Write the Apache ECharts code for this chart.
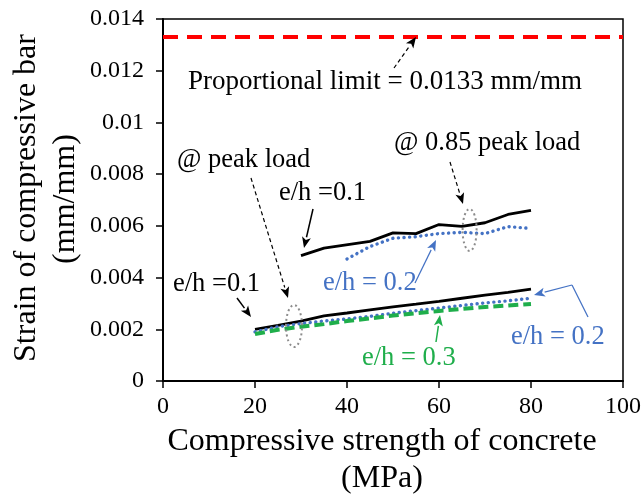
<!DOCTYPE html>
<html><head><meta charset="utf-8">
<script src="https://cdn.jsdelivr.net/npm/echarts@6/dist/echarts.min.js"></script>
<style>html,body{margin:0;padding:0;background:#fff}#c{width:644px;height:500px}</style>
</head><body><div id="c"></div>
<script>
// ---- data ----
var xLower = [20,25,30,35,40,45,50,55,60,65,70,75,80];
var peak_eh01 = [0.00200,0.00215,0.00232,0.00252,0.00263,0.00275,0.00287,0.00297,0.00308,0.00320,0.00332,0.00343,0.00355];
var peak_eh02 = [0.00190,0.00210,0.00222,0.00232,0.00240,0.00250,0.00262,0.00272,0.00282,0.00292,0.00302,0.00310,0.00320];
var peak_eh03 = [0.00182,0.00198,0.00210,0.00220,0.00232,0.00242,0.00253,0.00262,0.00271,0.00279,0.00286,0.00292,0.00298];
var xUp01 = [30,35,45,50,55,60,65,70,75,80];
var p85_eh01 = [0.00485,0.00514,0.00540,0.00573,0.00570,0.00605,0.00598,0.00612,0.00644,0.00660];
var xUp02 = [40,45,50,55,60,65,70,75,80];
var p85_eh02 = [0.00472,0.00520,0.00552,0.00558,0.00570,0.00575,0.00570,0.00597,0.00590];
var proportionalLimit = 0.0133;
var xLimit = [0,100];

function pairs(xs, ys){ return xs.map(function(x,i){return [x, ys[i]];}); }

var FONT = 'Liberation Serif, Times New Roman, serif';
var chart = echarts.init(document.getElementById('c'));

function arrow(x1,y1,x2,y2,color,dashed,w){
  var ang = Math.atan2(y2-y1,x2-x1), L=11, H=4.5;
  var bx = x2 - L*Math.cos(ang), by = y2 - L*Math.sin(ang);
  var px = -Math.sin(ang), py = Math.cos(ang);
  return [
    {type:'line', shape:{x1:x1,y1:y1,x2:bx,y2:by}, style:{stroke:color,lineWidth:w||1.2,lineDash:dashed?[4,3]:null}, z:10},
    {type:'polygon', shape:{points:[[x2,y2],[bx+px*H,by+py*H],[bx+L*0.25*Math.cos(ang),by+L*0.25*Math.sin(ang)],[bx-px*H,by-py*H]]}, style:{fill:color}, z:10}
  ];
}
function txt(x,y,s,color,size,align){
  return {type:'text', x:x, y:y, z:11, style:{text:s, fill:color||'#000', font:(size||26.5)+'px '+FONT, textAlign:align||'left', textVerticalAlign:'middle'}};
}
function ell(cx,cy,rx,ry){
  return {type:'ellipse', shape:{cx:cx,cy:cy,rx:rx,ry:ry}, style:{fill:null,stroke:'#8c8c8c',lineWidth:2,lineDash:[2,3]}, z:9};
}

var g = [];
g.push({type:'text', x:27, y:198, rotation:Math.PI/2, z:11, style:{text:'Strain of compressive bar', fill:'#000', font:'32px '+FONT, textAlign:'center', textVerticalAlign:'middle'}});
g.push({type:'text', x:66, y:199, rotation:Math.PI/2, z:11, style:{text:'(mm/mm)', fill:'#000', font:'32px '+FONT, textAlign:'center', textVerticalAlign:'middle'}});
g.push(txt(382,442,'Compressive strength of concrete','#000',32,'center'));
g.push(txt(382,479,'(MPa)','#000',32,'center'));
g.push(txt(188,82,'Proportional limit = 0.0133 mm/mm','#000',27));
g.push(txt(394,143,'@ 0.85 peak load','#000',26.5));
g.push(txt(177,160,'@ peak load','#000',26.5));
g.push(txt(279,193,'e/h =0.1','#000',26.5));
g.push(txt(173,284,'e/h =0.1','#000',26.5));
g.push(txt(323,283,'e/h = 0.2','#4472C4',26.5));
g.push(txt(511,337,'e/h = 0.2','#4472C4',26.5));
g.push(txt(362,358,'e/h = 0.3','#1FAE4B',26.5));
g = g.concat(arrow(394,68,416,37,'#000',true,1.2));
g = g.concat(arrow(450,162,463,204,'#000',true,1.2));
g = g.concat(arrow(251,178,288,298,'#000',true,1.2));
g = g.concat(arrow(313,209,304,248,'#000',false,1.5));
g = g.concat(arrow(237,298,251,317,'#000',false,1.5));
g = g.concat(arrow(415,283,436,240,'#4472C4',false,1.2));
g.push({type:'line', shape:{x1:588,y1:317,x2:572,y2:285}, style:{stroke:'#4472C4',lineWidth:1.2}, z:10});
g = g.concat(arrow(572,285,534,295,'#4472C4',false,1.2));
g = g.concat(arrow(436,342,440,315,'#1FAE4B',false,1.5));
g.push(ell(469.6,230,7,21));
g.push(ell(294,326,8,21));

chart.setOption({
  animation:false,
  grid:{left:163,right:21,top:19,bottom:119,show:true,borderColor:'#000',borderWidth:1.5,backgroundColor:'transparent'},
  xAxis:{type:'value',min:0,max:100,interval:20,
    axisLine:{lineStyle:{color:'#000',width:2}},
    axisTick:{inside:false,length:7,lineStyle:{color:'#000',width:1.5}},
    axisLabel:{color:'#000',fontFamily:FONT,fontSize:24,margin:14},
    splitLine:{show:false}},
  yAxis:{type:'value',min:0,max:0.014,interval:0.002,
    axisLine:{show:true,lineStyle:{color:'#000',width:2}},
    axisTick:{show:true,inside:false,length:7,lineStyle:{color:'#000',width:1.5}},
    axisLabel:{color:'#000',fontFamily:FONT,fontSize:24,margin:19},
    splitLine:{show:false}},
  series:[
    {type:'line',data:xLimit.map(function(x){return [x,proportionalLimit];}),symbol:'none',lineStyle:{color:'#FF0000',width:4,type:[15,9]},z:3},
    {type:'line',data:pairs(xLower,peak_eh01),symbol:'none',lineStyle:{color:'#000',width:2.8},z:3},
    {type:'line',data:pairs(xLower,peak_eh02),symbol:'none',lineStyle:{color:'#4472C4',width:3.4,type:[0.1,5.5],cap:'round'},z:4},
    {type:'line',data:pairs(xLower,peak_eh03),symbol:'none',lineStyle:{color:'#1FAE4B',width:4,type:[10,5]},z:5},
    {type:'line',data:pairs(xUp01,p85_eh01),symbol:'none',lineStyle:{color:'#000',width:2.8},z:3},
    {type:'line',data:pairs(xUp02,p85_eh02),symbol:'none',lineStyle:{color:'#4472C4',width:3.4,type:[0.1,5.5],cap:'round'},z:4}
  ],
  graphic:g
});
</script></body></html>
